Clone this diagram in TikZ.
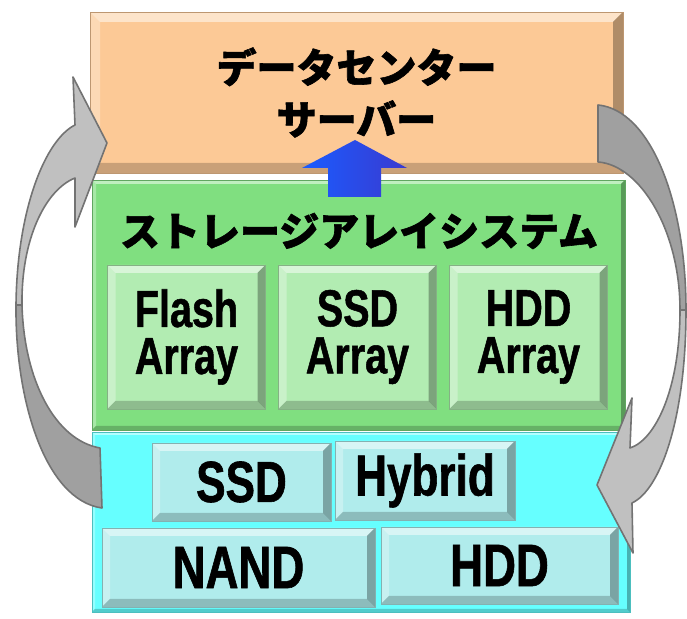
\documentclass[tikz,border=0pt]{standalone}
\usepackage{fontspec}
\newfontfamily\jpfont{Noto Sans CJK JP}[BoldFeatures={FakeBold=1.5}]
\newfontfamily\narrowfont{Liberation Sans}[FakeStretch=0.76, BoldFeatures={FakeBold=1}]
\definecolor{peach}{RGB}{252,201,150}
\definecolor{leafgreen}{RGB}{128,223,128}
\definecolor{palegreen}{RGB}{178,236,178}
\definecolor{aqua}{RGB}{102,255,255}
\definecolor{paleaqua}{RGB}{176,236,236}
\definecolor{graylight}{RGB}{192,192,192}
\definecolor{graydark}{RGB}{160,160,160}
\definecolor{blueA}{RGB}{26,92,255}
\definecolor{blueB}{RGB}{58,58,208}

\begin{document}
\begin{tikzpicture}[x=0.5pt, y=-0.5pt,
  bevel/.style={path picture={
    \fill[white,opacity=.5] (path picture bounding box.north west) -- (path picture bounding box.north east)
      -- ([xshift=-#1,yshift=-#1]path picture bounding box.north east) -- ([xshift=#1,yshift=-#1]path picture bounding box.north west) -- cycle;
    \fill[white,opacity=.3] (path picture bounding box.north west) -- ([xshift=#1,yshift=-#1]path picture bounding box.north west)
      -- ([xshift=#1,yshift=#1]path picture bounding box.south west) -- (path picture bounding box.south west) -- cycle;
    \fill[black,opacity=.2] (path picture bounding box.south west) -- ([xshift=#1,yshift=#1]path picture bounding box.south west)
      -- ([xshift=-#1,yshift=#1]path picture bounding box.south east) -- (path picture bounding box.south east) -- cycle;
    \fill[black,opacity=.3] (path picture bounding box.south east) -- ([xshift=-#1,yshift=#1]path picture bounding box.south east)
      -- ([xshift=-#1,yshift=-#1]path picture bounding box.north east) -- (path picture bounding box.north east) -- cycle;
  }},
  layer/.style={fill=#1, draw=#1!75!black, line width=0.4pt, inner sep=0pt},
  jp/.style={font=\jpfont\bfseries\fontsize{20}{26}\selectfont, align=center},
  unit/.style={layer=palegreen, bevel=4pt, minimum width=79pt, minimum height=72pt,
    font=\narrowfont\bfseries\fontsize{26}{23.5}\selectfont, align=center},
  media/.style={layer=paleaqua, bevel=4pt, font=\narrowfont\bfseries\fontsize{29}{29}\selectfont},
  arrowline/.style={draw=gray!90!black, line width=0.8pt, line join=round},
]
  \path[use as bounding box, fill=white] (0,0) rectangle (687,619);

  % layers
  \node[layer=peach, bevel=5pt, minimum width=266.5pt, minimum height=80.5pt, jp] (server) at (356.5,92.5)
    {データセンター\\サーバー};
  \node[layer=leafgreen, bevel=2pt, minimum width=266.5pt, minimum height=125pt] (storage) at (358.5,305) {};
  \node[layer=aqua, bevel=1.5pt, minimum width=269pt, minimum height=90pt] (devices) at (361,522) {};
  \node[jp] (title) at (359,231) {ストレージアレイシステム};

  % arrays
  \node[unit] (flash) at (186.5,337) {Flash\\Array};
  \node[unit] (ssdarray) at (357.5,337) {SSD\\Array};
  \node[unit] (hddarray) at (528.5,337) {HDD\\Array};

  % devices
  \node[media, minimum width=89.5pt, minimum height=39pt] (ssd) at (241.5,482) {SSD};
  \node[media, minimum width=90pt, minimum height=39.5pt] (hybrid) at (425,480.5) {Hybrid};
  \node[media, minimum width=136.5pt, minimum height=39.5pt, font=\narrowfont\bfseries\fontsize{30}{30}\selectfont] (nand) at (238.5,567.5) {NAND};
  \node[media, minimum width=118.5pt, minimum height=38.5pt, font=\narrowfont\bfseries\fontsize{30}{30}\selectfont] (hdd) at (499.5,565.5) {HDD};

  % up arrow
  \shade[left color=blueA, right color=blueB] (328,197) -- (328,168) -- (302,168) -- (355,140)
    -- (407,168) -- (381,168) -- (381,197) -- cycle;

  % left loop
  \filldraw[arrowline, fill=graydark] (102,508) .. controls (45,500) and (15,400) .. (16,305)
    -- (22,305) .. controls (24,380) and (55,440) .. (100,448) -- cycle;
  \filldraw[arrowline, fill=graylight] (16,305) .. controls (17,210) and (45,140) .. (75,125)
    -- (73,77) -- (107,143) -- (75,227) -- (75,178) .. controls (45,190) and (21,240) .. (22,305) -- cycle;

  % right loop
  \filldraw[arrowline, fill=graydark] (598,105) .. controls (650,110) and (686,200) .. (686,310)
    -- (680,310) .. controls (680,230) and (640,165) .. (598,162) -- cycle;
  \filldraw[arrowline, fill=graylight] (686,310) .. controls (686,420) and (660,490) .. (632,503)
    -- (633,553) -- (597,485) -- (632,398) -- (630,448) .. controls (655,440) and (680,390) .. (680,310) -- cycle;
\end{tikzpicture}
\end{document}
